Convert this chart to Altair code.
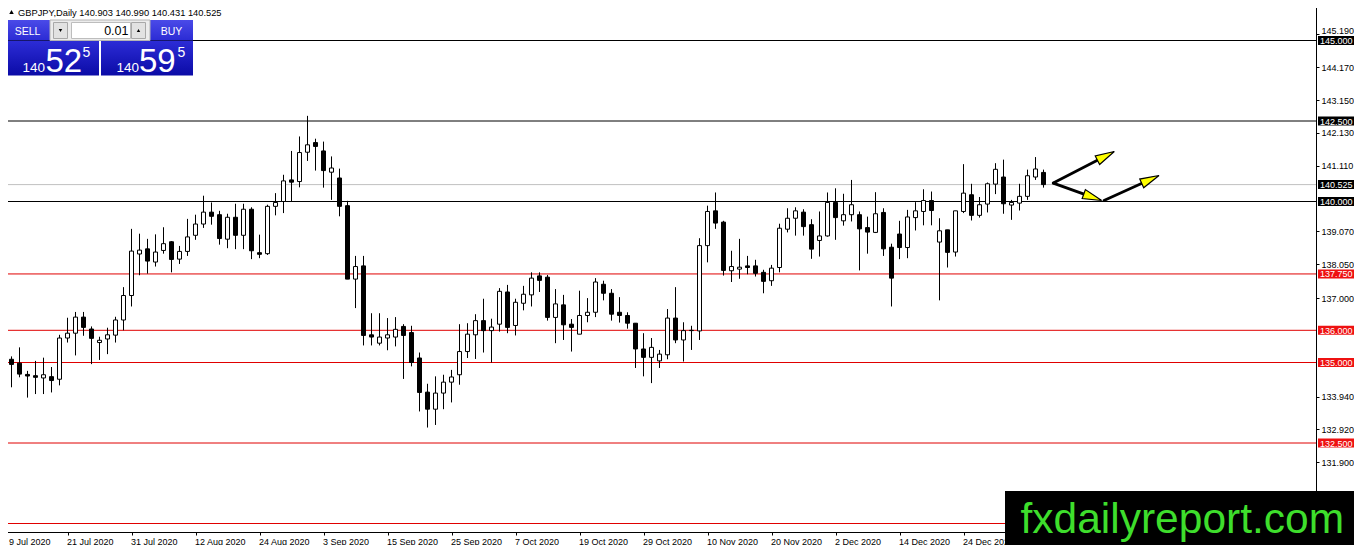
import math
import altair as alt
import pandas as pd

# ---------------- data ----------------
opens = [135.23, 135.10, 134.98, 134.63, 134.59, 134.52, 134.56, 134.48, 135.76, 135.91,
         136.41, 136.04, 135.62, 135.73, 135.85, 136.32, 137.08, 138.37, 138.53, 138.12,
         138.48, 138.75, 138.21, 138.45, 138.95, 139.30, 139.67, 139.59, 138.83, 139.51,
         138.95, 139.76, 138.41, 138.38, 139.85, 140.00, 140.67, 140.62, 141.53, 141.83,
         141.57, 140.91, 140.73, 139.87, 137.59, 138.00, 135.86, 135.60, 135.76, 135.79,
         136.12, 135.93, 135.14, 134.08, 133.55, 134.05, 134.39, 134.62, 135.34, 135.86,
         136.30, 135.99, 136.19, 137.19, 136.15, 136.84, 137.10, 137.69, 137.65, 136.40,
         136.79, 136.19, 135.88, 136.46, 136.56, 137.43, 137.15, 136.56, 136.46, 136.22,
         135.42, 135.16, 135.05, 135.24, 136.38, 135.70, 135.99, 135.98, 138.63, 139.71,
         139.36, 137.85, 137.90, 138.00, 138.00, 137.80, 137.54, 137.95, 139.14, 139.48,
         139.67, 139.28, 138.79, 138.93, 139.97, 139.40, 139.59, 139.59, 139.19, 139.04,
         139.66, 138.58, 138.99, 138.57, 139.50, 139.69, 140.03, 138.74, 139.12, 138.43,
         139.69, 140.21, 139.57, 139.92, 140.54, 140.76, 139.89, 139.95, 140.16, 140.76,
         140.903]
highs = [135.91, 135.19, 135.47, 134.74, 135.05, 135.15, 134.86, 135.86, 136.39, 136.57,
         136.57, 136.12, 135.80, 136.08, 136.42, 137.34, 139.15, 139.00, 138.84, 138.98,
         139.20, 138.77, 138.62, 139.46, 139.59, 140.18, 139.97, 139.71, 139.62, 139.93,
         139.93, 139.82, 138.97, 139.90, 140.26, 140.83, 141.57, 142.02, 142.66, 141.95,
         141.86, 141.40, 141.02, 140.02, 138.31, 138.31, 136.53, 136.53, 136.38, 136.41,
         136.19, 136.14, 135.31, 134.34, 134.57, 134.62, 134.77, 136.19, 136.22, 136.50,
         136.98, 136.36, 137.31, 137.41, 136.98, 137.38, 137.80, 137.80, 137.72, 137.28,
         137.10, 136.35, 137.23, 137.00, 137.62, 137.54, 137.28, 137.03, 136.56, 136.22,
         135.91, 135.76, 135.39, 136.66, 137.34, 136.25, 136.14, 138.86, 139.87, 140.28,
         139.40, 138.47, 138.84, 138.31, 138.19, 137.88, 138.03, 139.31, 139.79, 139.82,
         139.76, 139.45, 139.69, 140.28, 140.41, 140.24, 140.67, 139.69, 139.53, 140.29,
         139.79, 138.69, 139.40, 139.74, 139.98, 140.38, 140.31, 139.48, 139.12, 139.71,
         141.16, 140.55, 140.14, 140.59, 141.19, 141.30, 140.05, 140.55, 140.99, 141.38,
         140.990]
lows = [134.98, 134.23, 134.54, 133.91, 134.02, 134.02, 134.07, 134.29, 135.62, 135.22,
        135.83, 134.95, 135.08, 135.26, 135.62, 136.00, 136.74, 137.71, 137.76, 137.98,
        138.38, 137.80, 138.06, 138.31, 138.81, 139.18, 139.28, 138.66, 138.55, 138.52,
        138.52, 138.21, 138.24, 138.34, 139.57, 139.64, 140.00, 140.44, 141.26, 140.96,
        140.43, 140.05, 139.54, 137.59, 136.69, 135.53, 135.53, 135.53, 135.38, 135.50,
        134.49, 134.88, 133.48, 132.98, 133.06, 133.55, 133.76, 134.31, 135.14, 135.11,
        135.31, 135.00, 135.96, 135.91, 135.84, 136.62, 136.74, 137.19, 136.30, 135.60,
        135.70, 135.34, 135.88, 136.25, 136.41, 136.93, 136.30, 136.24, 136.05, 134.83,
        134.57, 134.36, 134.83, 135.10, 135.60, 135.03, 135.39, 135.70, 138.11, 139.15,
        137.70, 137.50, 137.60, 137.74, 137.67, 137.15, 137.38, 137.80, 139.04, 138.94,
        138.94, 138.22, 138.29, 138.91, 138.81, 139.25, 139.38, 137.86, 138.38, 139.02,
        138.31, 136.74, 138.21, 138.24, 139.10, 139.26, 139.26, 136.93, 137.95, 138.29,
        139.64, 139.41, 139.50, 139.66, 140.23, 139.62, 139.43, 139.72, 140.05, 140.67,
        140.431]
closes = [135.08, 134.94, 134.64, 134.58, 134.54, 134.62, 134.44, 135.76, 135.91, 136.41,
          136.09, 135.75, 135.69, 135.86, 136.32, 137.08, 138.46, 138.49, 138.15, 138.43,
          138.69, 138.20, 138.45, 138.90, 139.30, 139.67, 139.54, 138.85, 139.51, 138.95,
          139.76, 138.47, 138.36, 139.85, 139.97, 140.64, 140.60, 141.52, 141.76, 141.71,
          140.96, 141.04, 139.85, 137.59, 137.98, 135.84, 135.79, 135.79, 135.86, 136.03,
          135.84, 135.00, 134.07, 133.55, 134.05, 134.39, 134.55, 135.34, 135.88, 136.30,
          135.99, 136.10, 137.21, 136.09, 136.87, 137.12, 137.62, 137.55, 136.40, 136.82,
          136.17, 136.09, 136.46, 136.56, 137.50, 137.15, 136.50, 136.46, 136.22, 135.42,
          135.16, 135.47, 135.26, 136.38, 135.70, 135.99, 136.00, 138.63, 139.69, 139.33,
          137.86, 137.98, 137.96, 137.95, 137.77, 137.52, 137.93, 139.17, 139.48, 139.71,
          139.22, 138.52, 138.93, 139.97, 139.50, 139.59, 139.90, 139.15, 139.05, 139.62,
          138.53, 137.62, 138.57, 139.52, 139.71, 140.03, 139.72, 139.09, 138.42, 139.71,
          140.26, 139.57, 139.90, 140.55, 141.00, 139.93, 139.97, 140.16, 140.80, 141.01,
          140.525]

date_labels = ["9 Jul 2020", "21 Jul 2020", "31 Jul 2020", "12 Aug 2020", "24 Aug 2020",
               "3 Sep 2020", "15 Sep 2020", "25 Sep 2020", "7 Oct 2020", "19 Oct 2020",
               "29 Oct 2020", "10 Nov 2020", "20 Nov 2020", "2 Dec 2020", "14 Dec 2020",
               "24 Dec 2020"]
date_every = 8

price_ticks = [145.19, 144.17, 143.15, 142.13, 141.11, 139.07, 138.05, 137.00,
               133.94, 132.92, 131.90]

level_prices = [145.0, 142.5, 140.525, 140.0, 137.75, 136.0, 135.0, 132.5, 130.0]
level_kinds = ["line", "line", "bid", "line", "red", "red", "red", "red", "red"]
level_tagged = [True, True, True, True, True, True, True, True, False]  # 130.000 tag sits under the logo

# arrows (bar index, price): start -> tip
arrow_x0 = [131.22, 131.22, 137.56]
arrow_y0 = [140.571, 140.571, 140.031]
arrow_x1 = [138.85, 137.27, 144.44]
arrow_y1 = [141.553, 140.031, 140.807]

symbol = "GBPJPY,Daily"
ohlc_text = "140.903 140.990 140.431 140.525"
lot = "0.01"
bid_big, bid_sup = "52", "5"
ask_big, ask_sup = "59", "5"
price_head = "140"
site = "fxdailyreport.com"

# ---------------- layout ----------------
W, H = 1314, 531
OX, OY = 2, 1          # page position of plot origin
PXU = 8.0              # px per bar
PYU = 32.2             # px per price unit
X0 = -1.5 / PXU
X1 = X0 + W / PXU
Y_TOP = 140 + 200.5 / PYU
Y_BOT = 140 - (H - 200.5) / PYU
SVG_W, SVG_H = 1346, 537

FONT = "Liberation Sans"
xs = alt.Scale(domain=[X0, X1], nice=False, zero=False)
ys = alt.Scale(domain=[Y_BOT, Y_TOP], nice=False, zero=False)

n = len(opens)
df = pd.DataFrame({"i": list(range(n)), "o": opens, "h": highs, "l": lows, "c": closes})

label_expr = "[" + ",".join("'%s'" % s for s in date_labels) + "][round(datum.value / %d)]" % date_every
x_axis = alt.Axis(values=[k * date_every for k in range(len(date_labels))], labelExpr=label_expr,
                  orient="bottom", grid=False, title=None, domainColor="black", tickColor="black",
                  tickSize=3, labelAlign="left", labelFont=FONT, labelFontSize=9, labelColor="black",
                  labelPadding=2, labelFlush=False, labelOverlap=False,
                  labelOffset={"condition": {"test": "datum.value == 0", "value": 5}, "value": -1})
y_axis = alt.Axis(values=price_ticks, format=".3f", orient="right", grid=False, title=None,
                  domainColor="black", tickColor="black", tickSize=3, labelFont=FONT,
                  labelFontSize=9, labelColor="black", labelPadding=2, labelOverlap=False,
                  labelFlush=False,
                  labelOffset={"condition": {"test": "datum.value > 145", "value": -3.5}, "value": 0})


def X(field):
    return alt.X(field, scale=xs, axis=x_axis)


def Y(field):
    return alt.Y(field, scale=ys, axis=y_axis)


base = alt.Chart(df)

wicks = base.mark_rule(color="black", strokeWidth=1).encode(
    x=X("i:Q"), y=Y("l:Q"), y2="h:Q")

bodies = base.transform_calculate(xl="datum.i - 0.25", xr="datum.i + 0.25").mark_rect(
    stroke="black", strokeWidth=1).encode(
    x=X("xl:Q"), x2="xr:Q", y=Y("o:Q"), y2="c:Q",
    fill=alt.condition("datum.c >= datum.o", alt.value("white"), alt.value("black")))

lv = pd.DataFrame({"p": level_prices, "kind": level_kinds, "tag": level_tagged,
                   "lbl": ["%.3f" % p for p in level_prices]})
lv_tag = lv[lv["tag"]]
kind_scale = alt.Scale(domain=["line", "bid", "red"], range=["black", "#c0c0c0", "#e00000"])
box_scale = alt.Scale(domain=["line", "bid", "red"], range=["black", "black", "#ee1111"])

levels = alt.Chart(lv).mark_rule(strokeWidth=1).encode(
    y=Y("p:Q"), color=alt.Color("kind:N", scale=kind_scale, legend=None))

lv_boxes = alt.Chart(lv_tag).mark_rect(yOffset=-4.5, y2Offset=4.5).encode(
    y=Y("p:Q"), y2="p:Q",
    x=alt.value(1318 - OX), x2=alt.value(1354 - OX),
    fill=alt.Color("kind:N", scale=box_scale, legend=None))
lv_text = alt.Chart(lv_tag).mark_text(align="left", baseline="middle", font=FONT, fontSize=9,
                                      color="white", dy=0.5).encode(
    y=Y("p:Q"), x=alt.value(1320 - OX), text="lbl:N")

# arrows
HEAD = 19.0
rows = []
for a0, b0, a1, b1 in zip(arrow_x0, arrow_y0, arrow_x1, arrow_y1):
    dx = (a1 - a0) * PXU
    dy = (b1 - b0) * PYU
    ln = math.hypot(dx, dy)
    ang = math.degrees(math.atan2(dx, dy)) % 360
    xe = a1 - 0.6 * HEAD * dx / ln / PXU
    ye = b1 - 0.6 * HEAD * dy / ln / PYU
    rows.append({"x0": a0, "y0": b0, "xe": xe, "ye": ye, "x1": a1, "y1": b1, "ang": ang})
adf = pd.DataFrame(rows)
shafts = alt.Chart(adf).mark_rule(color="black", strokeWidth=2.8, strokeCap="round").encode(
    x=X("x0:Q"), x2="xe:Q", y=Y("y0:Q"), y2="ye:Q")
heads = alt.Chart(adf).mark_point(shape="M0,0L0.5,2L-0.5,2Z", filled=True, fill="#ffff00",
                                  stroke="black", strokeWidth=1.2, opacity=1, fillOpacity=1,
                                  size=HEAD * HEAD).encode(
    x=X("x1:Q"), y=Y("y1:Q"), angle=alt.Angle("ang:Q", scale=None))

# ---------------- overlay panel ----------------
one = pd.DataFrame({"k": [0]})


def box(x1, y1, x2, y2, **kw):
    return alt.Chart(one).mark_rect(**kw).encode(
        x=alt.value(x1 - OX), x2=alt.value(x2 - OX),
        y=alt.value(y1 - OY), y2=alt.value(y2 - OY))


def txt(s, x, y, size, color="white", align="left", baseline="alphabetic", font=FONT):
    return alt.Chart(one).mark_text(text=s, fontSize=size, color=color, align=align,
                                    baseline=baseline, font=font).encode(
        x=alt.value(x - OX), y=alt.value(y - OY))


def tri(x, y, shape, size):
    return alt.Chart(one).mark_point(shape=shape, filled=True, color="black", size=size,
                                     opacity=1).encode(x=alt.value(x - OX), y=alt.value(y - OY))


btn = alt.Gradient(gradient="linear", x1=0, x2=0, y1=0, y2=1,
                   stops=[alt.GradientStop(color="#4a4ae8", offset=0),
                          alt.GradientStop(color="#2b2bd4", offset=1)])
big = alt.Gradient(gradient="linear", x1=0, x2=0, y1=0, y2=1,
                   stops=[alt.GradientStop(color="#2c2cd6", offset=0),
                          alt.GradientStop(color="#0b0ba6", offset=1)])

panel = [
    tri(11.5, 12, "triangle-up", 20),
    txt(symbol + "  " + ohlc_text, 18, 15.5, 9.3, color="black"),
    box(6, 20, 50, 40.5, fill=btn),
    box(150, 20, 193, 40.5, fill=btn),
    box(50, 20, 150, 40.5, fill="#ececec", stroke="#b4b4b4", strokeWidth=1),
    box(53.5, 22.5, 67.5, 38.5, fill="#e2e2e2", stroke="#a8a8a8", strokeWidth=1),
    box(71.5, 22.5, 130.5, 38.5, fill="white", stroke="#bdbdbd", strokeWidth=1),
    box(131.5, 22.5, 145.5, 38.5, fill="#e2e2e2", stroke="#a8a8a8", strokeWidth=1),
    tri(60.5, 30.5, "triangle-down", 12),
    tri(138.5, 30.5, "triangle-up", 12),
    txt(lot, 128.5, 34.5, 12.5, color="black", align="right"),
    txt("SELL", 27.5, 35.3, 10.5, align="center"),
    txt("BUY", 171.5, 35.3, 10.5, align="center"),
    box(6, 41, 99, 75.5, fill=big),
    box(101, 41, 193, 75.5, fill=big),
    txt(price_head, 22.5, 71.7, 13.5),
    txt(bid_big, 45.5, 71.7, 33),
    txt(bid_sup, 82.5, 56.7, 14),
    txt(price_head, 116.5, 71.7, 13.5),
    txt(ask_big, 139, 71.7, 33),
    txt(ask_sup, 177.5, 56.7, 14),
    box(1005, 491, 1370, 560, fill="black"),
    txt(site, 1020.5, 532.7, 42.5, color="#3ede2c"),
]

chart = alt.layer(levels, wicks, bodies, shafts, heads, lv_boxes, lv_text, *panel).properties(
    width=W, height=H,
    autosize=alt.AutoSizeParams(type="none"),
    padding={"left": -OX - 6 + 2, "top": -OY - 7 + 1,
             "right": SVG_W - W + (OX + 6 - 2), "bottom": SVG_H - H + (OY + 7 - 1)},
    background="white",
).configure_view(stroke="black", strokeWidth=1)

chart.save("out.html", embed_options={"renderer": "svg", "actions": False})
